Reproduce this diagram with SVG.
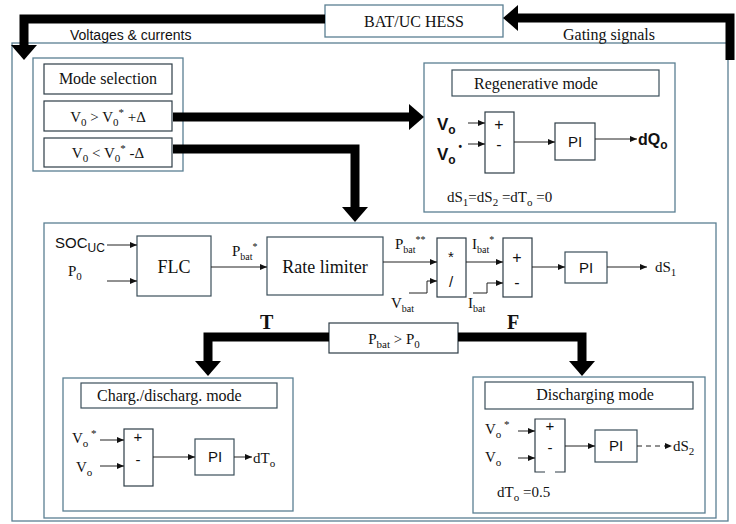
<svg xmlns="http://www.w3.org/2000/svg" width="736" height="524" viewBox="0 0 736 524">
<style>
.frame{fill:none;stroke:#5a7f92;stroke-width:1.3}
.box{fill:#fff;stroke:#2e3d46;stroke-width:1.2}
.tbox{fill:#fff;stroke:#3b4f5a;stroke-width:1.2}
.ser{font-family:"Liberation Serif","Times New Roman",serif;fill:#111}
.san{font-family:"Liberation Sans",Arial,sans-serif;fill:#111}
.thin{fill:none;stroke:#222;stroke-width:1}
.dash{fill:none;stroke:#222;stroke-width:1;stroke-dasharray:5 4}
.thick{fill:none;stroke:#000;stroke-width:9}
.c{text-anchor:middle}
</style>
<defs>
<marker id="big" markerUnits="userSpaceOnUse" viewBox="0 -14 16 28" refX="0" refY="0" markerWidth="16" markerHeight="28" orient="auto">
<path d="M0,-13 L15,0 L0,13 z" fill="#000"/>
</marker>
<marker id="sm" markerUnits="userSpaceOnUse" viewBox="0 -3 7 6" refX="7" refY="0" markerWidth="7" markerHeight="6" orient="auto">
<path d="M0,-3 L7,0 L0,3 z" fill="#111"/>
</marker>
</defs>

<rect class="frame" x="12" y="43" width="716" height="478"/>

<g id="hess">
<rect class="frame" x="325" y="5" width="178" height="32" fill="#fff"/>
<text class="ser c" x="414" y="27" font-size="16">BAT/UC HESS</text>
</g>
<text class="san" x="70" y="40" font-size="14">Voltages &amp; currents</text>
<text class="ser" x="563" y="40" font-size="16">Gating signals</text>

<g id="mode-selection">
<rect class="frame" x="33" y="58" width="150" height="113"/>
<rect class="box" x="44" y="64" width="128" height="30"/>
<text class="ser c" x="108" y="84" font-size="16">Mode selection</text>
<rect class="box" x="44" y="101" width="128" height="30"/>
<text class="ser c" x="108" y="122" font-size="15">V<tspan dy="4" font-size="11">0</tspan><tspan dy="-4"> &gt; V</tspan><tspan dy="4" font-size="11">0</tspan><tspan dy="-10" font-size="11">*</tspan><tspan dy="6"> +Δ</tspan></text>
<rect class="box" x="44" y="138" width="128" height="29"/>
<text class="ser c" x="108" y="158" font-size="15">V<tspan dy="4" font-size="11">0</tspan><tspan dy="-4"> &lt; V</tspan><tspan dy="4" font-size="11">0</tspan><tspan dy="-10" font-size="11">*</tspan><tspan dy="6"> -Δ</tspan></text>
</g>

<g id="regenerative">
<rect class="frame" x="424" y="63" width="251" height="149"/>
<rect class="tbox" x="452" y="70" width="207" height="26"/>
<text class="ser" x="474" y="89" font-size="16">Regenerative mode</text>
<rect class="box" x="485" y="112" width="29" height="61"/>
<text class="san c" x="499" y="130" font-size="16">+</text>
<text class="san c" x="499" y="150" font-size="16">-</text>
<text class="san" x="437" y="130" font-size="17" font-weight="bold">V<tspan dy="4" font-size="12">o</tspan></text>
<text class="san" x="437" y="160" font-size="17" font-weight="bold">V<tspan dy="4" font-size="12">o</tspan><tspan dy="-14" font-size="10"> •</tspan></text>
<rect class="box" x="555" y="123" width="40" height="37"/>
<text class="san c" x="575" y="147" font-size="15">PI</text>
<text class="san" x="638" y="145" font-size="16" font-weight="bold">dQ<tspan dy="4" font-size="12">o</tspan></text>
<text class="ser" x="447" y="202" font-size="15">dS<tspan dy="4" font-size="11">1</tspan><tspan dy="-4">=dS</tspan><tspan dy="4" font-size="11">2</tspan><tspan dy="-4"> =dT</tspan><tspan dy="4" font-size="11">o</tspan><tspan dy="-4">  =0</tspan></text>
</g>

<g id="battery-control">
<rect class="frame" x="44" y="223" width="672" height="295"/>
<text class="san" x="55" y="248" font-size="15">SOC<tspan dy="4" font-size="12">UC</tspan></text>
<text class="ser" x="68" y="276" font-size="15">P<tspan dy="4" font-size="11">0</tspan></text>
<rect class="tbox" x="137" y="236" width="74" height="60"/>
<text class="ser c" x="174" y="273" font-size="18">FLC</text>
<text class="ser" x="232" y="256" font-size="15">P<tspan dy="4" font-size="10">bat</tspan><tspan dy="-10" font-size="10">*</tspan></text>
<rect class="tbox" x="267" y="237" width="116" height="58"/>
<text class="ser c" x="325" y="273" font-size="18">Rate limiter</text>
<text class="ser" x="395" y="249" font-size="15">P<tspan dy="4" font-size="10">bat</tspan><tspan dy="-10" font-size="10">**</tspan></text>
<rect class="box" x="437" y="238" width="29" height="59"/>
<text class="san c" x="451" y="262" font-size="15">*</text>
<text class="san c" x="451" y="287" font-size="15">/</text>
<text class="ser" x="391" y="308" font-size="15">V<tspan dy="4" font-size="10">bat</tspan></text>
<text class="ser" x="472" y="249" font-size="15">I<tspan dy="4" font-size="10">bat</tspan><tspan dy="-10" font-size="10">*</tspan></text>
<rect class="box" x="503" y="238" width="29" height="59"/>
<text class="san c" x="517" y="263" font-size="16">+</text>
<text class="san c" x="517" y="288" font-size="16">-</text>
<text class="ser" x="468" y="308" font-size="15">I<tspan dy="4" font-size="10">bat</tspan></text>
<rect class="tbox" x="565" y="252" width="42" height="31"/>
<text class="san c" x="586" y="273" font-size="15">PI</text>
<text class="ser" x="655" y="272" font-size="15">dS<tspan dy="4" font-size="11">1</tspan></text>
</g>

<g id="decision">
<rect class="box" x="329" y="323" width="129" height="30"/>
<text class="ser c" x="394" y="344" font-size="15">P<tspan dy="4" font-size="11">bat</tspan><tspan dy="-4"> &gt; P</tspan><tspan dy="4" font-size="11">0</tspan></text>
<text class="ser" x="260" y="329" font-size="20" font-weight="bold">T</text>
<text class="ser" x="507" y="329" font-size="20" font-weight="bold">F</text>
</g>

<g id="charge-discharge">
<rect class="frame" x="63" y="378" width="230" height="133"/>
<rect class="tbox" x="81" y="383" width="196" height="25"/>
<text class="ser" x="97" y="401" font-size="16">Charg./discharg. mode</text>
<rect class="box" x="124" y="429" width="29" height="57"/>
<text class="san c" x="138" y="442" font-size="15">+</text>
<text class="san c" x="138" y="465" font-size="15">-</text>
<text class="ser" x="72" y="443" font-size="15">V<tspan dy="4" font-size="11">o</tspan><tspan dy="-10" font-size="11"> *</tspan></text>
<text class="ser" x="76" y="472" font-size="15">V<tspan dy="4" font-size="11">o</tspan></text>
<rect class="tbox" x="195" y="439" width="39" height="36"/>
<text class="san c" x="215" y="462" font-size="15">PI</text>
<text class="ser" x="253" y="463" font-size="15">dT<tspan dy="4" font-size="11">o</tspan></text>
</g>

<g id="discharging">
<rect class="frame" x="473" y="377" width="232" height="136"/>
<rect class="tbox" x="485" y="382" width="208" height="27"/>
<text class="ser c" x="595" y="400" font-size="16">Discharging mode</text>
<path class="box" fill="none" d="M545,472 H535 V419 H565 V472 H555"/>
<text class="san c" x="550" y="431" font-size="15">+</text>
<text class="san c" x="550" y="453" font-size="15">-</text>
<text class="ser" x="485" y="434" font-size="15">V<tspan dy="4" font-size="11">o</tspan><tspan dy="-10" font-size="11"> *</tspan></text>
<text class="ser" x="485" y="462" font-size="15">V<tspan dy="4" font-size="11">o</tspan></text>
<rect class="tbox" x="595" y="430" width="42" height="32"/>
<text class="san c" x="616" y="451" font-size="15">PI</text>
<text class="ser" x="673" y="451" font-size="15">dS<tspan dy="4" font-size="11">2</tspan></text>
<text class="ser" x="497" y="497" font-size="15">dT<tspan dy="4" font-size="11">o</tspan><tspan dy="-4"> =0.5</tspan></text>
</g>

<g id="connectors">
<path class="thick" d="M325,19 H24 V45" marker-end="url(#big)"/>
<path class="thick" d="M730,60 V18 H518" marker-end="url(#big)"/>
<path class="thick" d="M173,117 H409" marker-end="url(#big)"/>
<path class="thick" d="M173,149 H355 V207" marker-end="url(#big)"/>
<path class="thick" d="M329,337 H208 V361" marker-end="url(#big)"/>
<path class="thick" d="M458,337 H582 V361" marker-end="url(#big)"/>
<path class="thin" d="M468,123 H485" marker-end="url(#sm)"/>
<path class="thin" d="M468,144 H485" marker-end="url(#sm)"/>
<path class="thin" d="M514,142 H555" marker-end="url(#sm)"/>
<path class="thin" d="M595,139 H637" marker-end="url(#sm)"/>
<path class="thin" d="M107,245 H137" marker-end="url(#sm)"/>
<path class="thin" d="M107,281 H137" marker-end="url(#sm)"/>
<path class="thin" d="M211,267 H267" marker-end="url(#sm)"/>
<path class="thin" d="M383,262 H437" marker-end="url(#sm)"/>
<path class="thin" d="M409,293 H427 V281 H437" marker-end="url(#sm)"/>
<path class="thin" d="M466,262 H503" marker-end="url(#sm)"/>
<path class="thin" d="M473,293 H487 V283 H503" marker-end="url(#sm)"/>
<path class="thin" d="M532,267 H565" marker-end="url(#sm)"/>
<path class="thin" d="M607,267 H647" marker-end="url(#sm)"/>
<path class="thin" d="M100,440 H124" marker-end="url(#sm)"/>
<path class="thin" d="M100,466 H124" marker-end="url(#sm)"/>
<path class="thin" d="M153,457 H195" marker-end="url(#sm)"/>
<path class="thin" d="M234,457 H252" marker-end="url(#sm)"/>
<path class="thin" d="M518,431 H535" marker-end="url(#sm)"/>
<path class="thin" d="M518,458 H535" marker-end="url(#sm)"/>
<path class="thin" d="M565,446 H595" marker-end="url(#sm)"/>
<path class="dash" d="M637,446 H672" marker-end="url(#sm)"/>
</g>
</svg>
